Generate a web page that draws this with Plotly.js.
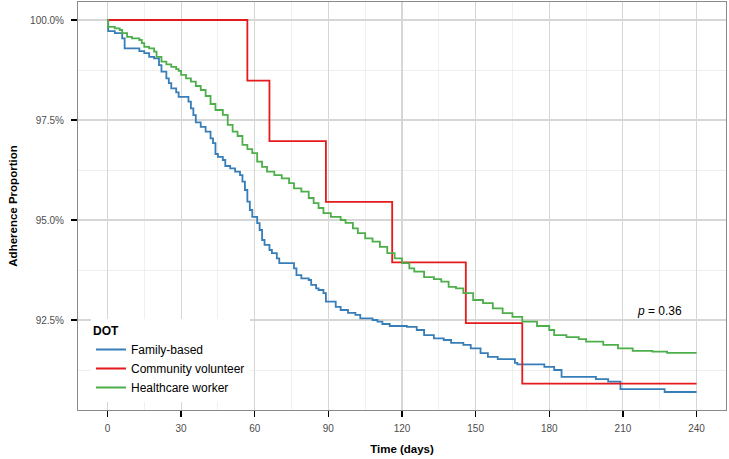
<!DOCTYPE html>
<html><head><meta charset="utf-8">
<script src="https://cdn.plot.ly/plotly-3.0.1.min.js"></script>
<style>body{margin:0;background:#fff}</style></head>
<body><div id="chart" style="width:729px;height:459px"></div>
<script>
// Kaplan-Meier style adherence curves (percent)
const seriesNames = ["Family-based", "Community volunteer", "Healthcare worker"];
const seriesColors = ["#377EB8", "#E41A1C", "#4DAF4A"];

const familyDays = [0,0.3,3,6,7,13,15,17,19,21,22,24,25,26,28,29,33,34,35,36,38,40,42,43,44,45,47,48,50,52,54,55,56,57,58,59,61,62,63,64,66,67,69,70,76,77,79,82,83,85,86,88,89,93,95,98,101,103,108,110,112,115,122,126,129,133,137,140,145,148,152,155,159,166,167,178,182,185,199,204,209,227,240];
const familyPct = [100,99.72,99.67,99.54,99.29,99.22,99.17,99.08,99.04,98.87,98.71,98.54,98.42,98.29,98.19,98.08,97.96,97.79,97.62,97.44,97.33,97.21,97.04,96.92,96.65,96.58,96.50,96.35,96.29,96.21,96.12,95.96,95.75,95.46,95.25,95.08,94.92,94.75,94.50,94.38,94.25,94.17,94.04,93.92,93.79,93.62,93.54,93.50,93.38,93.29,93.25,93.17,92.96,92.83,92.75,92.68,92.63,92.54,92.50,92.46,92.40,92.35,92.33,92.25,92.12,92.04,92.00,91.93,91.88,91.79,91.67,91.58,91.52,91.43,91.39,91.33,91.25,91.08,91.02,90.96,90.77,90.70,90.70];

const communityDays = [0,57,66,89,116,146,169,240];
const communityPct = [100,98.485,96.97,95.455,93.94,92.42,90.91,90.91];

const healthDays = [0,0.3,3,5,6,8,10,13,14,15,17,19,20,22,24,26,28,29,30,32,34,36,38,40,42,44,47,49,51,53,55,57,59,61,63,65,68,71,74,76,79,82,84,86,88,91,95,97,100,102,105,108,111,114,117,120,123,125,129,133,136,139,142,145,149,153,157,161,165,169,175,180,182,187,192,195,202,208,214,222,228,240];
const healthPct = [100,99.83,99.79,99.75,99.67,99.58,99.54,99.50,99.42,99.33,99.29,99.21,99.08,98.96,98.89,98.83,98.77,98.73,98.63,98.54,98.46,98.35,98.25,98.10,97.90,97.75,97.63,97.38,97.21,97.10,96.88,96.77,96.67,96.46,96.33,96.21,96.12,96.04,95.92,95.79,95.71,95.55,95.42,95.30,95.17,95.08,95.00,94.93,94.79,94.67,94.54,94.46,94.33,94.17,94.04,93.92,93.79,93.71,93.57,93.52,93.46,93.33,93.29,93.17,93.00,92.92,92.79,92.67,92.58,92.46,92.35,92.25,92.12,92.07,92.02,91.96,91.88,91.79,91.73,91.71,91.68,91.68];

const xTicks = [0,30,60,90,120,150,180,210,240];
const yTicks = [92.5,95.0,97.5,100.0];
const yTickLabels = ["92.5%","95.0%","97.5%","100.0%"];
const pValueText = "<i>p</i> = 0.36";
const pValuePos = [225, 92.72];

const xs = [familyDays, communityDays, healthDays];
const ys = [familyPct, communityPct, healthPct];

const traces = seriesNames.map((n, i) => ({
  type: "scatter", mode: "lines", name: n,
  x: xs[i], y: ys[i],
  line: {shape: "hv", color: seriesColors[i], width: 1.8}
}));

const font = "Liberation Sans, Arial, sans-serif";
const layout = {
  width: 729, height: 459,
  margin: {l: 78, r: 3, t: 2, b: 49},
  paper_bgcolor: "#fff", plot_bgcolor: "#fff",
  font: {family: font, size: 11, color: "#000"},
  showlegend: true,
  legend: {
    x: 0.02, xanchor: "left", y: 0.222, yanchor: "top",
    bgcolor: "#fff", borderwidth: 0,
    font: {family: font, size: 12, color: "#000"},
    title: {text: "<b>DOT</b>", font: {family: font, size: 12, color: "#000"}},
    itemwidth: 30, tracegroupgap: 0
  },
  xaxis: {
    range: [-12, 252], tickvals: xTicks, ticktext: xTicks.map(String),
    showline: true, mirror: true, linecolor: "#8a8a8a", linewidth: 1,
    ticks: "outside", ticklen: 6, tickwidth: 1.3, tickcolor: "#000",
    ticklabelstandoff: 3,
    tickfont: {family: font, size: 10, color: "#4d4d4d"},
    showgrid: true, gridcolor: "#d6d6d6", gridwidth: 1.1,
    minor: {dtick: 15, tick0: 0, showgrid: true, gridcolor: "#ebebeb", gridwidth: 0.8},
    zeroline: false,
    title: {text: "<b>Time (days)</b>", font: {family: font, size: 11.5, color: "#000"}, standoff: 11}
  },
  yaxis: {
    range: [90.25, 100.45], tickvals: yTicks, ticktext: yTickLabels,
    showline: true, mirror: true, linecolor: "#8a8a8a", linewidth: 1,
    ticks: "outside", ticklen: 6, tickwidth: 1.3, tickcolor: "#000",
    ticklabelstandoff: 5,
    tickfont: {family: font, size: 10, color: "#4d4d4d"},
    showgrid: true, gridcolor: "#d6d6d6", gridwidth: 1.1,
    minor: {dtick: 1.25, tick0: 90, showgrid: true, gridcolor: "#ebebeb", gridwidth: 0.8},
    zeroline: false,
    title: {text: "<b>Adherence Proportion</b>", font: {family: font, size: 11.5, color: "#000"}, standoff: 10}
  },
  annotations: [{
    x: pValuePos[0], y: pValuePos[1], xref: "x", yref: "y",
    text: pValueText, showarrow: false,
    font: {family: font, size: 12, color: "#000"}
  }]
};

Plotly.newPlot("chart", traces, layout, {displayModeBar: false, staticPlot: true});
</script>
</body></html>
